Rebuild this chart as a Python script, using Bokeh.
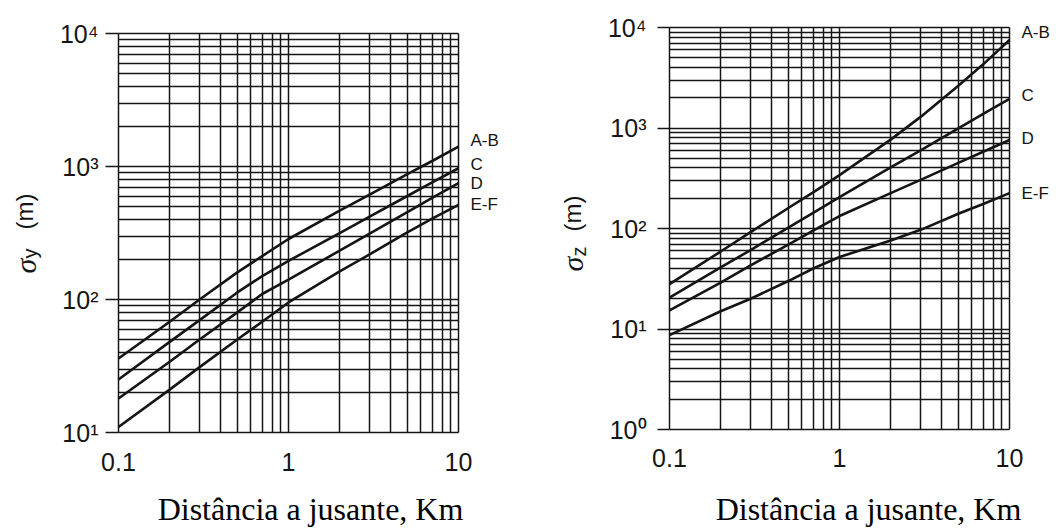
import math
from bokeh.plotting import figure
from bokeh.models import Range1d, FixedTicker, Grid
from bokeh.core.properties import value
from bokeh.layouts import row
from bokeh.embed import file_html
from bokeh.resources import INLINE

# ---------------- data ----------------
classes = ["A-B", "C", "D", "E-F"]
dist_km = [0.1, 0.2, 0.3, 0.5, 0.7, 1, 2, 3, 5, 7, 10]

# sigma_y (m)
sy_ab = [36, 68, 100, 160, 212, 285, 465, 615, 875, 1100, 1410]
sy_c = [25, 48, 70, 113, 150, 195, 316, 420, 600, 760, 970]
sy_d = [18, 34, 50, 80, 110, 141, 233, 313, 453, 580, 750]
sy_ef = [11, 21, 31, 50, 68, 95, 163, 218, 320, 405, 515]

# sigma_z (m)
sz_ab = [28, 59, 92, 160, 229, 340, 766, 1290, 2630, 4300, 7500]
sz_c = [20.5, 41, 61, 102, 143, 205, 405, 600, 990, 1380, 1950]
sz_d = [15.3, 29, 43, 69, 95, 133, 225, 305, 450, 580, 760]
sz_ef = [8.7, 15, 20, 30, 40, 52, 76, 97, 140, 175, 225]

x_ticks = [0.1, 1, 10]
x_tick_labels = ["0.1", "1", "10"]
y_ticks_left = [10, 100, 1000, 10000]
y_tick_labels_left = ["10\u00b9", "10\u00b2", "10\u00b3", "10\u2074"]
y_ticks_right = [1, 10, 100, 1000, 10000]
y_tick_labels_right = ["10\u2070", "10\u00b9", "10\u00b2", "10\u00b3", "10\u2074"]

x_title = "Distância a jusante, Km"

INK = "#151515"
SANS = "Liberation Sans"
SERIF = "Liberation Serif"


def minor_list(lo_exp, hi_exp):
    return [m * 10.0 ** e for e in range(lo_exp, hi_exp) for m in range(2, 10)]


def make_panel(cfg):
    W, H = cfg["size"]
    fx0, fx1, fy0, fy1 = cfg["frame"]
    y_lo, y_hi = cfg["yrange"]
    x_lo, x_hi = x_ticks[0], x_ticks[-1]
    dxd = (fx1 - fx0) / math.log10(x_hi / x_lo)      # px per decade, x
    dyd = (fy1 - fy0) / math.log10(y_hi / y_lo)      # px per decade, y

    def X(px):
        return 10 ** (math.log10(x_lo) + (px - fx0) / dxd)

    def Y(py):
        return 10 ** (math.log10(y_hi) - (py - fy0) / dyd)

    def PY(v):
        return fy0 + (math.log10(y_hi) - math.log10(v)) * dyd

    p = figure(width=W, height=H, x_axis_type="log", y_axis_type="log",
               x_axis_location=None, y_axis_location=None,
               x_range=Range1d(X(0), X(W)), y_range=Range1d(Y(H), Y(0)),
               output_backend="svg", toolbar_location=None,
               min_border_left=0, min_border_right=0, min_border_top=0, min_border_bottom=0)
    p.background_fill_color = "white"
    p.border_fill_color = "white"
    p.outline_line_color = None
    p.grid.grid_line_color = None
    p.grid.minor_grid_line_color = None

    e_lo = int(round(math.log10(y_lo)))
    e_hi = int(round(math.log10(y_hi)))
    xt = FixedTicker(ticks=x_ticks, minor_ticks=minor_list(-1, 1))
    yt = FixedTicker(ticks=cfg["yticks"], minor_ticks=minor_list(e_lo, e_hi))
    gstyle = dict(grid_line_color=INK, grid_line_width=1.5, minor_grid_line_color=INK,
                  minor_grid_line_width=1.5)
    p.add_layout(Grid(dimension=0, ticker=xt, bounds=(x_lo, x_hi), cross_bounds=(y_lo, y_hi), **gstyle))
    p.add_layout(Grid(dimension=1, ticker=yt, bounds=(y_lo, y_hi), cross_bounds=(x_lo, x_hi), **gstyle))
    # outward major ticks on the y axis
    yt_major = FixedTicker(ticks=cfg["yticks"], minor_ticks=[])
    p.add_layout(Grid(dimension=1, ticker=yt_major, bounds=(y_lo, y_hi),
                      cross_bounds=(X(fx0 - cfg["tick_out"]), x_lo),
                      grid_line_color=INK, grid_line_width=1.6, minor_grid_line_color=None))

    # curves
    for vals in cfg["series"]:
        p.line(dist_km, vals, line_color=INK, line_width=2.6)

    # tick labels
    p.text(x=[X(cfg["ylab_right"])] * len(cfg["yticks"]), y=cfg["yticks"], text=cfg["ylabels"],
           text_font=value(SANS), text_font_size=value("25px"), text_color=INK,
           text_align="right", text_baseline="middle")
    p.text(x=x_ticks, y=[Y(cfg["xlab_mid"])] * len(x_ticks), text=x_tick_labels,
           text_font=value(SANS), text_font_size=value("25px"), text_color=INK,
           text_align="center", text_baseline="middle")

    # curve labels
    lab_py = [PY(v[-1]) - dy for v, dy in zip(cfg["series"], cfg["label_dy"])]
    p.text(x=[X(fx1 + cfg["label_dx"])] * len(classes), y=[Y(q) for q in lab_py], text=classes,
           text_font=value(SANS), text_font_size=value("17px"), text_color=INK,
           text_align="left", text_baseline="middle")

    # rotated y-axis label: sigma + subscript + (m)
    (sx, sy), (ux, uy), (mx, my) = cfg["ylabel_pos"]
    p.text(x=[X(sx)], y=[Y(sy)], text=["\u03c3"], angle=math.pi / 2,
           text_font=value(SERIF), text_font_style="italic", text_font_size=value("30px"),
           text_color=INK, text_align="left", text_baseline="middle")
    p.text(x=[X(ux)], y=[Y(uy)], text=[cfg["sub"]], angle=math.pi / 2,
           text_font=value(SANS), text_font_size=value("20px"),
           text_color=INK, text_align="left", text_baseline="middle")
    p.text(x=[X(mx)], y=[Y(my)], text=["(m)"], angle=math.pi / 2,
           text_font=value(SANS), text_font_size=value("24px"),
           text_color=INK, text_align="left", text_baseline="middle")

    # x title under the chart
    tx, ty = cfg["title_pos"]
    p.text(x=[X(tx)], y=[Y(ty)], text=[x_title],
           text_font=value(SERIF), text_font_size=value("32px"), text_color="black",
           text_align="center", text_baseline="middle")
    return p


left_cfg = dict(size=(520, 529), frame=(118, 458, 33, 432), yrange=(10, 10000),
                yticks=y_ticks_left, ylabels=y_tick_labels_left,
                series=[sy_ab, sy_c, sy_d, sy_ef], sub="y", tick_out=13,
                ylab_right=98, xlab_mid=461, label_dx=12, label_dy=[6, 4, 0, 0],
                ylabel_pos=((24.5, 273), (29, 258), (24, 229)), title_pos=(310, 508))
right_cfg = dict(size=(534, 529), frame=(149, 489, 27, 429), yrange=(1, 10000),
                 yticks=y_ticks_right, ylabels=y_tick_labels_right,
                 series=[sz_ab, sz_c, sz_d, sz_ef], sub="z", tick_out=12,
                 ylab_right=126, xlab_mid=457, label_dx=12, label_dy=[7.6, 3, 1.5, 0],
                 ylabel_pos=((52, 271), (58, 256), (52, 231)), title_pos=(348, 508))

p1 = make_panel(left_cfg)
p2 = make_panel(right_cfg)

layout = row(p1, p2)
open("out.html", "w").write(file_html(layout, INLINE))
